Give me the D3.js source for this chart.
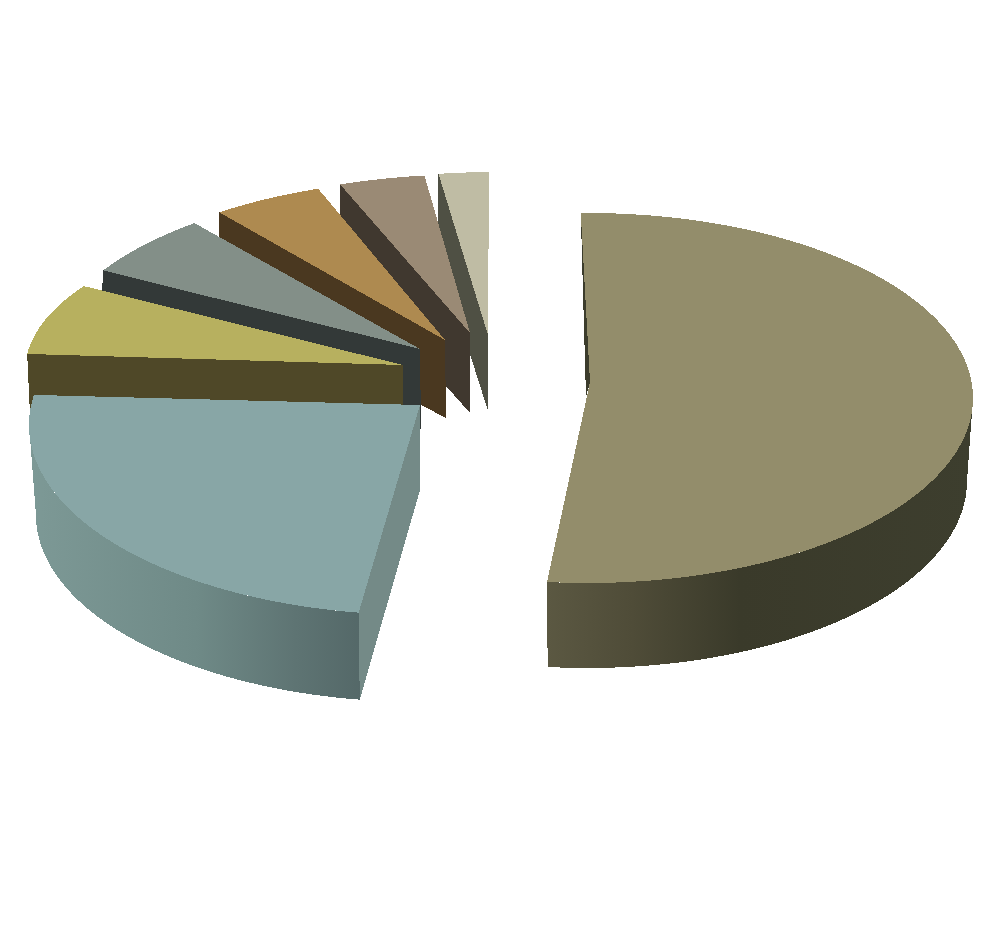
<!DOCTYPE html>
<html><head><meta charset="utf-8">
<style>html,body{margin:0;padding:0;background:#fff}svg{display:block}svg path{shape-rendering:crispEdges}</style>
<script src="https://cdn.jsdelivr.net/npm/d3@7/dist/d3.min.js"></script>
</head><body><div id="chart"></div>
<script>
// Data (share of the whole)
const categories = ["A","B","C","D","E","F","G"];
const values = [51.9, 25.0, 7.2, 5.6, 4.7, 3.6, 1.9];
const topColors = ["#938d6b","#88a6a6","#b7b05f","#838f88","#ae8a50","#9a8a75","#bfbca4"];
const cutColors = ["#3c3c2c","#748a87","#4f4828","#333938","#4a3820","#40382f","#4f5044"];

// Layout of each exploded slice (perspective-distorted ellipses)
const layout = [
 {ax:590,ay:382,cx:587.5,cy:398,rx:385.5,ry:185, bcx:587.5,bcy:481,brx:379.5,bry:187, wall:"big"},
 {ax:420,ay:405,cx:420,cy:425,rx:391,ry:190, da0:3, da1:3, bcx:420,bcy:515,brx:384,bry:187, wall:"teal"},
 {ax:403,ay:365,cx:410,cy:371,rx:385,ry:160, cut:[[403,410],[30,415]]},
 {ax:420,ay:349,cx:432,cy:367,rx:388,ry:182, cut:[[421,429],[102,293]]},
 {ax:445,ay:340,cx:455,cy:342,rx:385,ry:164, cut:[[446,418],[220,300]]},
 {ax:470,ay:333,cx:477,cy:334,rx:385,ry:160, cut:[[470,413],[340,267]]},
 {ax:488,ay:335,cx:495.7,cy:337,rx:385,ry:165, da0:-0.7, cut:[[488,411],[438,253]]}
];

const W = 987, H = 936;
const svg = d3.select("#chart").append("svg").attr("width",W).attr("height",H).attr("viewBox",[0,0,W,H]);
svg.append("rect").attr("width",W).attr("height",H).attr("fill","#fff");

const defs = svg.append("defs");
function grad(id, x1, x2, stops){
  const g = defs.append("linearGradient").attr("id",id).attr("gradientUnits","userSpaceOnUse")
    .attr("x1",x1).attr("x2",x2).attr("y1",0).attr("y2",0);
  stops.forEach(([o,c])=>g.append("stop").attr("offset",o).attr("stop-color",c));
}
grad("big",547,975,[[0,"#5b5842"],[0.2,"#4f4c38"],[0.45,"#3a3a2a"],[1,"#3d3e2e"]]);
grad("teal",30,362,[[0,"#7d9996"],[0.5,"#6f8a87"],[0.8,"#5e7473"],[1,"#546868"]]);

const pie = d3.pie().sort(null).value(d=>d).startAngle(-Math.PI/180).endAngle(359*Math.PI/180);
const arcs = pie(values);
const line = d3.line();
const pt = (cx,cy,rx,ry,a)=>[cx+rx*Math.sin(a), cy-ry*Math.cos(a)];
const rimPts = (cx,cy,rx,ry,a0,a1)=>{
  const n = Math.max(2,Math.ceil(Math.abs(a1-a0)*180/Math.PI));
  return d3.range(n+1).map(i=>pt(cx,cy,rx,ry,a0+(a1-a0)*i/n));
};
const rad = Math.PI/180;

d3.range(values.length).reverse().forEach(i=>{
  const L = layout[i], A = arcs[i];
  const a0 = A.startAngle+(L.da0||0)*rad, a1 = A.endAngle+(L.da1||0)*rad;
  const rim = rimPts(L.cx,L.cy,L.rx,L.ry,a0,a1);
  const g = svg.append("g").attr("class","slice").attr("data-cat",categories[i]);
  if (L.cut){
    // back cut face, seen along the leading edge of the slice
    const p = rim[0];
    g.append("path").attr("fill",cutColors[i])
     .attr("d",line([p,[L.ax,L.ay],L.cut[0],L.cut[1]])+"Z");
  }
  if (L.wall==="big"){
    const s = rim[0];
    g.append("path").attr("fill",cutColors[i])
     .attr("d",line([s,[L.ax,L.ay],[586,397]])+"Z");
    const outer = rimPts(L.cx,L.cy,L.rx,L.ry,a1,Math.PI/2);
    const lower = rimPts(L.bcx,L.bcy,L.brx,L.bry,Math.PI/2,a1);
    g.append("path").attr("fill","url(#big)").attr("d",line(outer.concat(lower))+"Z");
  }
  if (L.wall==="teal"){
    const s = rim[0];
    const sb = pt(L.bcx,L.bcy,L.brx,L.bry,a0);
    g.append("path").attr("fill",cutColors[i])
     .attr("d",line([[L.ax,L.ay],s,sb,[L.ax,L.ay+85]])+"Z");
    const outer = rimPts(L.cx,L.cy,L.rx,L.ry,a0,270*rad);
    const lower = rimPts(L.bcx,L.bcy,L.brx,L.bry,270*rad,a0);
    g.append("path").attr("fill","url(#teal)").attr("d",line(outer.concat(lower))+"Z");
  }
  g.append("path").attr("fill",topColors[i])
   .attr("d",line([[L.ax,L.ay]].concat(rim))+"Z");
});
</script></body></html>
